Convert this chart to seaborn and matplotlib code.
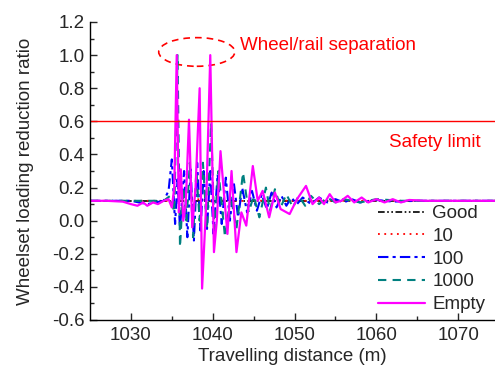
import matplotlib
matplotlib.use("Agg")
import matplotlib.pyplot as plt
from matplotlib.patches import Ellipse
import seaborn as sns
import pandas as pd

# ---- data ----
good_x = [1025, 1030, 1035, 1040, 1045, 1050, 1060, 1074.5]
good_y = [0.12, 0.12, 0.12, 0.12, 0.12, 0.12, 0.12, 0.12]

s10_x = [1025, 1032, 1035, 1037, 1038.5, 1040, 1042, 1044, 1047, 1050, 1060, 1074.5]
s10_y = [0.12, 0.12, 0.12, 0.125, 0.13, 0.115, 0.125, 0.118, 0.122, 0.12, 0.12, 0.12]

s100_x = [1025, 1030, 1031, 1032, 1033, 1034, 1034.6, 1035.0, 1035.4, 1035.7, 1036.0,
          1036.5, 1036.9, 1037.3, 1037.7, 1038.1, 1038.5, 1038.9, 1039.3, 1039.7,
          1040.1, 1040.6, 1041.1, 1041.6, 1042.1, 1042.6, 1043.1, 1043.6, 1044.2,
          1044.8, 1045.4, 1046.0, 1046.6, 1047.2, 1047.8, 1048.4, 1049.0, 1049.6,
          1050.3, 1051, 1052, 1053, 1054, 1055, 1056, 1057, 1058, 1060, 1062, 1065, 1074.5]
s100_y = [0.12, 0.12, 0.11, 0.10, 0.11, 0.12, 0.18, 0.37, -0.02, 0.25, -0.05,
          0.30, -0.10, 0.31, -0.12, 0.35, -0.06, 0.30, -0.05, 0.30,
          -0.08, 0.28, -0.02, 0.26, 0.00, 0.22, 0.02, 0.20, 0.05,
          0.18, 0.06, 0.16, 0.07, 0.17, 0.08, 0.15, 0.09, 0.14,
          0.10, 0.14, 0.10, 0.14, 0.11, 0.13, 0.11, 0.13, 0.11, 0.125, 0.115, 0.12, 0.12]

s1000_x = [1025, 1034, 1034.8, 1035.3, 1035.7, 1036.0, 1036.4, 1036.8, 1037.2, 1037.6,
           1038.0, 1038.4, 1038.8, 1039.3, 1039.8, 1040.2, 1040.7, 1041.5, 1042.2,
           1042.9, 1043.7, 1044.4, 1045.0, 1045.7, 1046.5, 1047.0, 1047.6, 1048.3,
           1049.0, 1049.8, 1050.5, 1051.3, 1052, 1053, 1054, 1055, 1056, 1058, 1060,
           1063, 1074.5]
s1000_y = [0.12, 0.12, 0.15, 0.05, 1.00, -0.16, 0.20, 0.00, 0.35, -0.10,
           0.30, 0.00, 0.35, -0.05, 0.59, -0.05, 0.30, -0.10, 0.15,
           -0.05, 0.29, 0.05, 0.15, 0.02, 0.20, 0.06, 0.19, 0.08,
           0.16, 0.08, 0.15, 0.09, 0.15, 0.10, 0.14, 0.11, 0.13, 0.11, 0.13,
           0.12, 0.12]

empty_x = [1025, 1027, 1029, 1030, 1030.8, 1031.5, 1032, 1032.7, 1033.3, 1034, 1034.6,
           1035.0, 1035.3, 1035.6, 1035.85, 1036.1, 1036.4, 1036.7, 1037.1, 1037.5,
           1037.9, 1038.4, 1038.7, 1039.2, 1039.7, 1040.15, 1040.5, 1040.95, 1041.4,
           1041.8, 1042.3, 1042.9, 1043.5, 1044.1, 1044.9, 1045.5, 1046.1, 1046.9,
           1047.6, 1048.3, 1049.4, 1050.3, 1051.4, 1052.2, 1053.0, 1053.6, 1054.3,
           1055.0, 1055.7, 1056.5, 1057.3, 1058.2, 1059, 1060, 1061, 1062, 1063, 1064,
           1066, 1068, 1070, 1074.5]
empty_y = [0.12, 0.12, 0.115, 0.10, 0.09, 0.11, 0.09, 0.11, 0.10, 0.12, 0.13,
           0.08, 0.20, 1.00, 0.05, 0.31, 0.00, 0.10, 0.61, -0.04,
           0.20, 0.80, -0.41, 0.10, 1.00, -0.19, 0.00, 0.42, 0.15,
           -0.08, 0.30, -0.19, 0.05, -0.03, 0.33, 0.12, 0.18, 0.02,
           0.17, 0.07, 0.04, 0.13, 0.21, 0.10, 0.14, 0.10, 0.16,
           0.11, 0.12, 0.15, 0.11, 0.14, 0.11, 0.13, 0.11, 0.13, 0.11, 0.125,
           0.12, 0.12, 0.12, 0.12]

labels = ["Good", "10", "100", "1000", "Empty"]
colors = ["#000000", "#FF0000", "#0000FF", "#008080", "#FF00FF"]

sns.set_style("ticks")
plt.rcParams["font.family"] = ["Liberation Sans", "DejaVu Sans"]
FS = 13.5
plt.rcParams["font.size"] = FS

fig = plt.figure(figsize=(4.95, 3.71), dpi=100)
ax = fig.add_axes([90 / 495, 1 - 320 / 371, 405 / 495, 298 / 371])

series = [(good_x, good_y), (s10_x, s10_y), (s100_x, s100_y), (s1000_x, s1000_y), (empty_x, empty_y)]
dashes = [(4, 1.5, 1, 1.5, 1, 1.5), (1, 2.5), (5, 2, 1.5, 2), (4, 3), ()]
widths = [1.2, 1.3, 1.5, 1.5, 1.6]
for i in range(5):
    xs, ys = series[i]
    df = pd.DataFrame({"x": xs, "y": ys})
    sns.lineplot(data=df, x="x", y="y", ax=ax, color=colors[i], label=labels[i],
                 linewidth=widths[i], estimator=None, sort=False)
    ln = ax.lines[-1]
    if dashes[i]:
        ln.set_dashes(dashes[i])

# safety limit
ax.axhline(0.6, color="#FF0000", linewidth=1.0)
ax.text(1061.5, 0.47, "Safety limit", color="#FF0000", fontsize=FS, va="center", ha="left")
ax.text(1043.3, 1.06, "Wheel/rail separation", color="#FF0000", fontsize=FS, va="center", ha="left")
ax.add_patch(Ellipse((1038.05, 1.019), 9.3, 0.173, fill=False, edgecolor="#FF0000",
                     linestyle=(0, (4, 3)), linewidth=1.2))

ax.set_xlim(1025, 1074.5)
ax.set_ylim(-0.6, 1.2)
ax.set_xticks([1030, 1040, 1050, 1060, 1070])
ax.set_xticks([1035, 1045, 1055, 1065], minor=True)
yt = [-0.6, -0.4, -0.2, 0.0, 0.2, 0.4, 0.6, 0.8, 1.0, 1.2]
ax.set_yticks(yt)
ax.set_yticks([-0.5, -0.3, -0.1, 0.1, 0.3, 0.5, 0.7, 0.9, 1.1], minor=True)
ax.set_yticklabels([f"{v:.1f}" for v in yt])
ax.tick_params(axis="both", which="major", direction="in", length=5, width=1, labelsize=FS)
ax.tick_params(axis="x", which="major", pad=5)
ax.tick_params(axis="y", which="major", pad=4)
ax.tick_params(axis="both", which="minor", direction="in", length=3, width=1)
for s in ["top", "right"]:
    ax.spines[s].set_visible(False)
for s in ["left", "bottom"]:
    ax.spines[s].set_linewidth(1.0)
    ax.spines[s].set_color("black")

ax.set_xlabel("Travelling distance (m)", fontsize=FS, labelpad=3)
ax.set_ylabel("Wheelset loading reduction ratio", fontsize=FS, labelpad=13)

leg = ax.legend(loc="upper left", bbox_to_anchor=((378 - 90) / 405, (320 - 205) / 298),
                frameon=False, fontsize=FS, handlelength=2.5, handletextpad=0.4,
                labelspacing=0.3, borderpad=0, borderaxespad=0)

fig.savefig("out.png", dpi=100)
